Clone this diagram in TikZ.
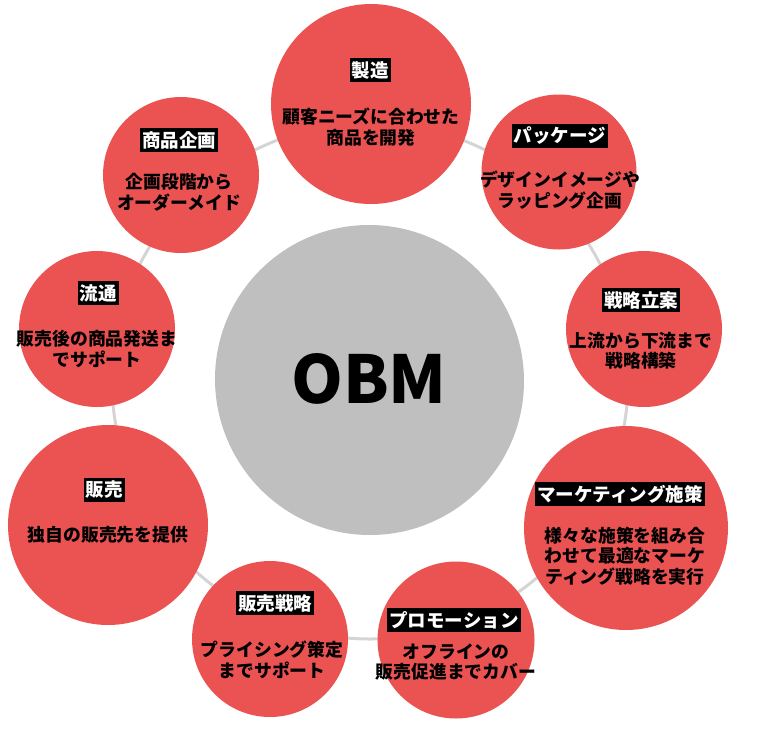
\documentclass[tikz,border=0pt]{standalone}
\usepackage{fontspec}
\setmainfont{Noto Sans CJK JP}
\definecolor{redc}{RGB}{235,82,82}
\definecolor{grayc}{RGB}{191,191,191}
\definecolor{ringc}{RGB}{212,212,212}
\tikzset{
  bubble/.style={circle, fill=redc, inner sep=0pt, minimum size=#1},
  ttl/.style={fill=black, text=white, font=\bfseries\fontsize{18.5}{20}\selectfont, inner xsep=2pt, inner ysep=3pt},
  body/.style={align=center, text=black, font=\bfseries\fontsize{17.8}{20.5}\selectfont, inner sep=0pt},
  ring/.style={draw=ringc, line width=3pt},
}
\begin{document}
\begin{tikzpicture}[x=1pt,y=-1pt]
\useasboundingbox (0,0) rectangle (776,742);
\node[circle, fill=grayc, inner sep=0pt, minimum size=308pt] (obm) at (370,381) {};
\draw[ring] (obm.center) circle (258);
\node[circle, fill=grayc, inner sep=0pt, minimum size=308pt, font=\bfseries\fontsize{66}{72}\selectfont] (obmt) at (369,379) {OBM};
% bubbles
\node[bubble=200pt] (c1) at (371,104) {};
\node[bubble=155pt] (c2) at (559,172) {};
\node[bubble=156pt] (c3) at (644,329) {};
\node[bubble=204pt] (c4) at (626,528) {};
\node[bubble=157pt] (c5) at (456,640) {};
\node[bubble=156pt] (c6) at (270,639) {};
\node[bubble=200pt] (c7) at (108,525) {};
\node[bubble=156pt] (c8) at (97,329) {};
\node[bubble=156pt] (c9) at (181,175) {};
% titles
\node[ttl] (t1) at (370,70) {製造};
\node[ttl] (t2) at (560,136) {パッケージ};
\node[ttl] (t3) at (641,300) {戦略立案};
\node[ttl] (t4) at (620,494) {マーケティング施策};
\node[ttl] (t5) at (454,620) {プロモーション};
\node[ttl] (t6) at (275,603) {販売戦略};
\node[ttl] (t7) at (104,490) {販売};
\node[ttl] (t8) at (98,293) {流通};
\node[ttl] (t9) at (179,140) {商品企画};
% bodies
\node[body] (b1) at (371,127) {顧客ニーズに合わせた\\商品を開発};
\node[body] (b2) at (560,190) {デザインイメージや\\ラッピング企画};
\node[body] (b3) at (641,351) {上流から下流まで\\戦略構築};
\node[body] (b4) at (625,556) {様々な施策を組み合\\わせて最適なマーケ\\ティング戦略を実行};
\node[body] (b5) at (456,662) {オフラインの\\販売促進までカバー};
\node[body] (b6) at (272,660) {プライシング策定\\までサポート};
\node[body] (b7) at (108,535) {独自の販売先を提供};
\node[body] (b8) at (97,349) {販売後の商品発送ま\\でサポート};
\node[body] (b9) at (179,192) {企画段階から\\オーダーメイド};
\end{tikzpicture}
\end{document}
